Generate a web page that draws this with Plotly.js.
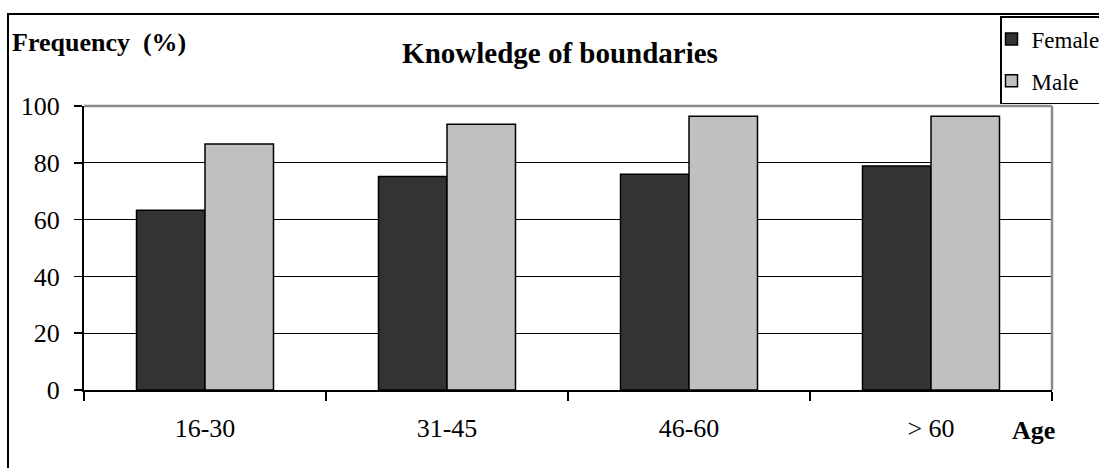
<!DOCTYPE html>
<html>
<head>
<meta charset="utf-8">
<script src="https://cdn.plot.ly/plotly-3.0.1.min.js"></script>
<style>
  html, body { margin: 0; padding: 0; background: #ffffff; }
  #chart { width: 1099px; height: 468px; }
</style>
</head>
<body>
<div id="chart"></div>
<script>
// Age groups and the share (%) of respondents who know the boundaries
const ageGroups = ["16-30", "31-45", "46-60", "> 60"];
const femaleValues = [63.3, 75.2, 76.0, 78.9];
const maleValues = [86.6, 93.6, 96.4, 96.4];
const yTicks = [0, 20, 40, 60, 80, 100];

const serif = "Liberation Serif, Times New Roman, serif";

// plot-area placement in pixels
const W = 1099, H = 468;
const M = { l: 84, r: 47, t: 106, b: 78, autoexpand: false };
const pw = W - M.l - M.r, ph = H - M.t - M.b;
const px = x => (x - M.l) / pw;          // pixel x -> paper x
const py = y => (H - M.b - y) / ph;      // pixel y -> paper y

const traces = [
  {
    type: "bar", name: "Female", x: ageGroups, y: femaleValues,
    legendgroup: "f",
    marker: { color: "#333333", line: { color: "#000000", width: 1.5 } }
  },
  {
    type: "bar", name: "Male", x: ageGroups, y: maleValues,
    legendgroup: "m",
    marker: { color: "#c0c0c0", line: { color: "#000000", width: 1.5 } }
  }
];

const layout = {
  width: W, height: H,
  margin: M,
  paper_bgcolor: "#ffffff", plot_bgcolor: "#ffffff",
  font: { family: serif, size: 26, color: "#000000" },
  barmode: "group", bargap: 0.434, bargroupgap: 0,
  title: {
    text: "<b>Knowledge of boundaries</b>",
    font: { family: serif, size: 29, color: "#000000" },
    xref: "paper", x: px(560), xanchor: "center",
    yref: "container", y: 1 - 53 / H, yanchor: "middle"
  },
  xaxis: {
    type: "category",
    tickson: "boundaries", ticks: "outside", ticklen: 9, tickwidth: 1.5, tickcolor: "#000000",
    showline: true, linecolor: "#000000", linewidth: 2,
    showgrid: false, zeroline: false,
    ticklabelstandoff: 14,
    tickfont: { family: serif, size: 26, color: "#000000" }
  },
  yaxis: {
    range: [0, 100], tickvals: yTicks, ticktext: yTicks.map(String),
    ticks: "outside", ticklen: 8, tickwidth: 1.5, tickcolor: "#000000",
    showline: true, linecolor: "#000000", linewidth: 2,
    showgrid: true, gridcolor: "#000000", gridwidth: 1.2,
    zeroline: false,
    ticklabelstandoff: 9,
    tickfont: { family: serif, size: 26, color: "#000000" }
  },
  showlegend: true,
  legend: {
    xref: "container", x: 1000 / W, xanchor: "left",
    yref: "container", y: 1 - 16 / H, yanchor: "top",
    bgcolor: "#ffffff", bordercolor: "#000000", borderwidth: 1.5,
    traceorder: "grouped", tracegroupgap: 9, indentation: -10,
    font: { family: serif, size: 23, color: "#000000" }
  },
  annotations: [
    {
      text: "<b>Frequency\u00a0 (%)</b>", showarrow: false,
      xref: "paper", yref: "paper", x: px(10), y: py(43),
      xanchor: "left", yanchor: "middle",
      font: { family: serif, size: 26, color: "#000000" }
    },
    {
      text: "<b>Age</b>", showarrow: false,
      xref: "paper", yref: "paper", x: px(1033), y: py(430),
      xanchor: "center", yanchor: "middle",
      font: { family: serif, size: 26, color: "#000000" }
    }
  ],
  shapes: [
    // outer chart frame
    {
      type: "rect", xref: "paper", yref: "paper",
      x0: px(8), x1: px(1110), y0: py(480), y1: py(14),
      line: { color: "#000000", width: 2 }, fillcolor: "rgba(0,0,0,0)", layer: "below"
    },
    // grey top and right edges of the plot area
    {
      type: "line", xref: "paper", yref: "paper", x0: 0, x1: 1, y0: 1, y1: 1,
      line: { color: "#8c8c8c", width: 2.5 }, layer: "above"
    },
    {
      type: "line", xref: "paper", yref: "paper", x0: 1, x1: 1, y0: 0, y1: 1,
      line: { color: "#8c8c8c", width: 2.5 }, layer: "above"
    }
  ]
};

Plotly.newPlot("chart", traces, layout, { displayModeBar: false, staticPlot: true });
</script>
</body>
</html>
